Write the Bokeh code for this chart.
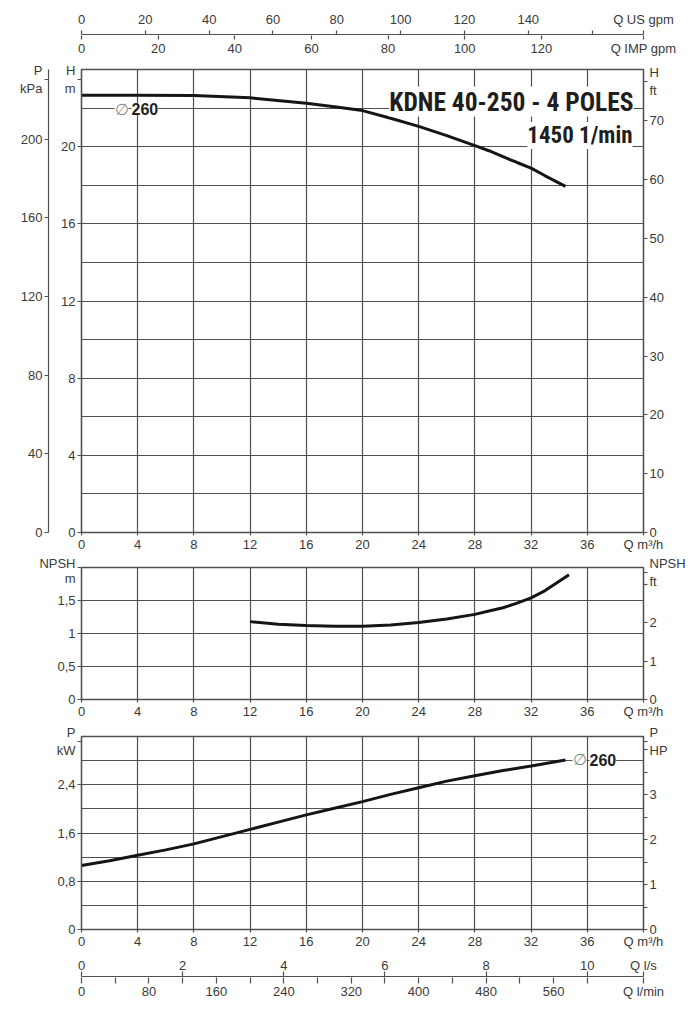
from bokeh.plotting import figure
from bokeh.models import Range1d, LinearAxis, FixedTicker, Label, ColumnDataSource
from bokeh.layouts import column
from bokeh.embed import file_html
from bokeh.resources import INLINE

# ---------------- data ----------------
Q_MAX = 40.0
H_MAX = 24.0
NPSH_MAX = 2.0
P_MAX = 3.2
KPA_PER_M = 9.80665
M_PER_FT = 0.3048
NPSH_M_PER_FT = 0.58          # NPSH right-hand scale as printed
KW_PER_HP = 0.7457
USGPM_PER_M3H = 4.40287
IMPGPM_PER_M3H = 3.66615
LS_PER_M3H = 1 / 3.6
LMIN_PER_M3H = 1000 / 60

q_head = [0, 4, 8, 12, 16, 18, 20, 22, 24, 26, 28, 29, 30, 31, 32, 33, 34.45]
head_m = [22.66, 22.66, 22.65, 22.53, 22.25, 22.07, 21.87, 21.47, 21.05, 20.57, 20.05,
          19.79, 19.48, 19.18, 18.89, 18.49, 17.94]

q_npsh = [12, 14, 16, 18, 20, 22, 24, 26, 28, 29, 30, 31, 32, 33, 34, 34.7]
npsh_m = [1.18, 1.14, 1.12, 1.11, 1.11, 1.13, 1.165, 1.22, 1.29, 1.34, 1.39, 1.46, 1.54,
          1.65, 1.79, 1.89]

q_power = [0, 2, 4, 6, 8, 10, 12, 14, 16, 18, 20, 22, 24, 26, 28, 30, 32, 34.45]
power_kw = [1.06, 1.14, 1.23, 1.32, 1.42, 1.54, 1.66, 1.78, 1.90, 2.01, 2.12, 2.24, 2.35,
            2.46, 2.55, 2.635, 2.71, 2.81]

q_ticks = [0, 4, 8, 12, 16, 20, 24, 28, 32, 36]
q_grid = [0, 4, 8, 12, 16, 20, 24, 28, 32, 36, 40]
us_ticks = [0, 20, 40, 60, 80, 100, 120, 140, 160]
imp_ticks = [0, 20, 40, 60, 80, 100, 120]
ls_ticks = [0, 2, 4, 6, 8, 10]
lmin_ticks = [0, 80, 160, 240, 320, 400, 480, 560]
lmin_minor = [40, 120, 200, 280, 360, 440, 520, 600]
h_ticks = [0, 4, 8, 12, 16, 20]
h_grid = [0, 2, 4, 6, 8, 10, 12, 14, 16, 18, 20, 22, 24]
kpa_ticks = [0, 40, 80, 120, 160, 200]
ft_ticks = [0, 10, 20, 30, 40, 50, 60, 70]
npsh_ticks = [0, 0.5, 1, 1.5]
npsh_tick_labels = ["0", "0,5", "1", "1,5"]
npsh_grid = [0, 0.5, 1, 1.5, 2]
npsh_ft_ticks = [0, 1, 2]
npsh_ft_minor = [3]
p_ticks = [0, 0.8, 1.6, 2.4]
p_tick_labels = ["0", "0,8", "1,6", "2,4"]
p_grid = [0, 0.4, 0.8, 1.2, 1.6, 2.0, 2.4, 2.8, 3.2]
hp_ticks = [0, 1, 2, 3]
hp_minor = [0.5, 1.5, 2.5, 3.5, 4]

TITLE = "KDNE 40-250 - 4 POLES"
SPEED = "1450 1/min"
DIAM = "260"
Q_M3H = "Q m³/h"

# ---------------- style ----------------
FONT = "Liberation Sans"
NARROW = ("Roboto Condensed, Noto Sans ExtraCondensed, Noto Sans Condensed, "
          "Liberation Sans Narrow, Open Sans Condensed, Liberation Sans")
TXT = "#3a3a3a"
GRID = "#505050"
CURVE = "#151515"
FL, FW = 81, 562          # frame left (page px) and frame width
EPS = 1e-3


def base_fig(xr, yr, fh, bt, bb, **kw):
    p = figure(frame_width=FW, frame_height=fh, x_range=xr, y_range=yr,
               output_backend="svg", toolbar_location=None,
               min_border_left=FL, min_border_right=50,
               min_border_top=bt, min_border_bottom=bb, **kw)
    p.background_fill_color = "white"
    p.border_fill_color = "white"
    p.outline_line_color = GRID
    p.outline_line_width = 1.4
    return p


def style_axis(ax, tick_out=4, standoff=2, lh=None):
    ax.axis_line_color = GRID
    ax.axis_line_width = 1.2
    ax.major_tick_line_color = GRID
    ax.major_tick_line_width = 1.2
    ax.minor_tick_line_color = GRID
    ax.minor_tick_line_width = 1.2
    ax.major_tick_out = tick_out
    ax.major_tick_in = 0
    ax.minor_tick_out = 0
    ax.minor_tick_in = 0
    ax.major_label_standoff = standoff
    ax.major_label_text_font = FONT
    ax.major_label_text_font_size = "13px"
    ax.major_label_text_color = TXT
    if lh is not None:
        ax.major_label_text_line_height = lh


def style_grid(p, xt, yt):
    p.xgrid.ticker = FixedTicker(ticks=xt)
    p.ygrid.ticker = FixedTicker(ticks=yt)
    for g in (p.xgrid[0], p.ygrid[0]):
        g.grid_line_color = GRID
        g.grid_line_width = 1.2


def ticks_with(ticks, labels, extra):
    """FixedTicker values + overrides; extra = {value: text} for unit labels."""
    vals = list(ticks) + list(extra.keys())
    ov = {t: l for t, l in zip(ticks, labels)}
    ov.update(extra)
    return vals, ov


def lab(p, ftop, fh, px, py, text, align="center", size="13.5px", bold=False,
        color=TXT, bg=None, font=FONT):
    x0, x1 = p.x_range.start, p.x_range.end
    y0, y1 = p.y_range.start, p.y_range.end
    x = x0 + (px - FL) / FW * (x1 - x0)
    y = y0 + (ftop + fh - py) / fh * (y1 - y0)
    L = Label(x=x, y=y, text=text, text_align=align, text_baseline="middle",
              text_font=font, text_font_size=size,
              text_font_style="bold" if bold else "normal",
              text_color=color, background_fill_color=bg)
    p.add_layout(L)
    return L


# ---------------- figure 1 : top flow axes ----------------
US_END = Q_MAX * USGPM_PER_M3H - EPS
IMP_END = Q_MAX * IMPGPM_PER_M3H - EPS
p1 = base_fig(Range1d(0, Q_MAX * USGPM_PER_M3H), Range1d(0, 1), 1, 34, 22,
              x_axis_location="above", y_axis_location=None)
p1.outline_line_color = None
p1.grid.visible = False
p1.extra_x_ranges = {"imp": Range1d(0, Q_MAX * IMPGPM_PER_M3H)}
ax_us = p1.xaxis[0]
v, ov = ticks_with(us_ticks, [str(t) for t in us_ticks[:-1]] + [""], {US_END: "Q US gpm"})
ax_us.ticker = FixedTicker(ticks=v)
ax_us.major_label_overrides = ov
style_axis(ax_us, 4, 4)
v, ov = ticks_with(imp_ticks, [str(t) for t in imp_ticks], {IMP_END: "Q IMP gpm"})
ax_imp = LinearAxis(x_range_name="imp", ticker=FixedTicker(ticks=v))
ax_imp.major_label_overrides = ov
style_axis(ax_imp, 4, 1)
ax_imp.axis_line_color = None
p1.add_layout(ax_imp, "below")


def q_axis(p):
    v, ov = ticks_with(q_ticks, [str(t) for t in q_ticks], {Q_MAX - EPS: Q_M3H})
    ax = p.xaxis[0]
    ax.ticker = FixedTicker(ticks=v)
    ax.major_label_overrides = ov
    style_axis(ax, 3, 1)


# ---------------- figure 2 : head ----------------
F2T, F2H = 68, 463
p2 = base_fig(Range1d(0, Q_MAX), Range1d(0, H_MAX), F2H, 11, 23)
p2.extra_y_ranges = {"kpa": Range1d(0, H_MAX * KPA_PER_M),
                     "ft": Range1d(0, H_MAX / M_PER_FT)}
H_UNIT = 23.5
ax_h = p2.yaxis[0]
v, ov = ticks_with(h_ticks, [str(t) for t in h_ticks], {H_UNIT: "H\nm"})
ax_h.ticker = FixedTicker(ticks=v)
ax_h.major_label_overrides = ov
style_axis(ax_h, 4, 2)
ax_h.axis_label = " "
ax_h.axis_label_standoff = 0
ax_h.axis_label_text_font_size = "7px"
q_axis(p2)
v, ov = ticks_with(kpa_ticks, [str(t) for t in kpa_ticks], {H_UNIT * KPA_PER_M: "P\nkPa"})
ax_kpa = LinearAxis(y_range_name="kpa", ticker=FixedTicker(ticks=v))
ax_kpa.major_label_overrides = ov
style_axis(ax_kpa, 4, 2)
p2.add_layout(ax_kpa, "left")
v, ov = ticks_with(ft_ticks, [str(t) for t in ft_ticks], {23.4 / M_PER_FT: "H\nft"})
ax_ft = LinearAxis(y_range_name="ft", ticker=FixedTicker(ticks=v))
ax_ft.major_label_overrides = ov
style_axis(ax_ft, 4, 2)
p2.add_layout(ax_ft, "right")
style_grid(p2, q_grid, h_grid)
p2.line(x="q", y="h", source=ColumnDataSource(dict(q=q_head, h=head_m)),
        line_width=3, line_color=CURVE)
lab(p2, F2T, F2H, 114, 107.5, "∅", align="left", size="16px", color="#8a8a8a", bg="white")
lab(p2, F2T, F2H, 131, 107.5, DIAM, align="left", size="16px", bold=True, color="#222222", bg="white")
lab(p2, F2T, F2H, 633, 100, TITLE, align="right", size="25.5px", bold=True,
    color="#1e1e1e", bg="white", font=NARROW)
lab(p2, F2T, F2H, 632, 134, SPEED, align="right", size="23px", bold=True,
    color="#1e1e1e", bg="white", font=NARROW)

# ---------------- figure 3 : NPSH ----------------
F3T, F3H = 566, 132
p3 = base_fig(Range1d(0, Q_MAX), Range1d(0, NPSH_MAX), F3H, 12, 23)
NPSH_FT_MAX = NPSH_MAX / NPSH_M_PER_FT
p3.extra_y_ranges = {"ft": Range1d(0, NPSH_FT_MAX)}
ax_n = p3.yaxis[0]
v, ov = ticks_with(npsh_ticks, npsh_tick_labels, {NPSH_MAX - EPS: "NPSH\nm"})
ax_n.ticker = FixedTicker(ticks=v)
ax_n.major_label_overrides = ov
style_axis(ax_n, 4, 2, 1.0)
q_axis(p3)
v, ov = ticks_with(npsh_ft_ticks, [str(t) for t in npsh_ft_ticks], {3.33: "NPSH\nft"})
ax_nft = LinearAxis(y_range_name="ft", ticker=FixedTicker(ticks=v, minor_ticks=npsh_ft_minor))
ax_nft.major_label_overrides = ov
style_axis(ax_nft, 4, 2)
ax_nft.minor_tick_out = 4
p3.add_layout(ax_nft, "right")
style_grid(p3, q_grid, npsh_grid)
p3.line(x="q", y="n", source=ColumnDataSource(dict(q=q_npsh, n=npsh_m)),
        line_width=3, line_color=CURVE)

# ---------------- figure 4 : power ----------------
F4T, F4H = 735, 193
p4 = base_fig(Range1d(0, Q_MAX), Range1d(0, P_MAX), F4H, 14, 23)
p4.extra_y_ranges = {"hp": Range1d(0, P_MAX / KW_PER_HP)}
ax_p = p4.yaxis[0]
v, ov = ticks_with(p_ticks, p_tick_labels, {3.12: "P\nkW"})
ax_p.ticker = FixedTicker(ticks=v)
ax_p.major_label_overrides = ov
style_axis(ax_p, 4, 2)
q_axis(p4)
v, ov = ticks_with(hp_ticks, [str(t) for t in hp_ticks], {4.18: "P\nHP"})
ax_hp = LinearAxis(y_range_name="hp", ticker=FixedTicker(ticks=v, minor_ticks=hp_minor))
ax_hp.major_label_overrides = ov
style_axis(ax_hp, 4, 2)
ax_hp.minor_tick_out = 4
p4.add_layout(ax_hp, "right")
style_grid(p4, q_grid, p_grid)
p4.line(x="q", y="p", source=ColumnDataSource(dict(q=q_power, p=power_kw)),
        line_width=3, line_color=CURVE)
lab(p4, F4T, F4H, 572, 758.3, "∅", align="left", size="16px", color="#8a8a8a", bg="white")
lab(p4, F4T, F4H, 589, 758.3, DIAM, align="left", size="16px", bold=True, color="#222222", bg="white")

# ---------------- figure 5 : bottom flow axes ----------------
LS_END = Q_MAX * LS_PER_M3H - EPS
LMIN_END = Q_MAX * LMIN_PER_M3H - EPS
p5 = base_fig(Range1d(0, Q_MAX * LS_PER_M3H), Range1d(0, 1), 1, 24, 26,
              x_axis_location="above", y_axis_location=None)
p5.outline_line_color = None
p5.grid.visible = False
p5.extra_x_ranges = {"lmin": Range1d(0, Q_MAX * LMIN_PER_M3H)}
ax_ls = p5.xaxis[0]
v, ov = ticks_with(ls_ticks, [str(t) for t in ls_ticks], {LS_END: "Q l/s"})
ax_ls.ticker = FixedTicker(ticks=v)
ax_ls.major_label_overrides = ov
style_axis(ax_ls, 5, -1)
v, ov = ticks_with(lmin_ticks, [str(t) for t in lmin_ticks], {LMIN_END: "Q l/min"})
ax_lm = LinearAxis(x_range_name="lmin", ticker=FixedTicker(ticks=v, minor_ticks=lmin_minor))
ax_lm.major_label_overrides = ov
style_axis(ax_lm, 6, 0)
ax_lm.minor_tick_out = 6
ax_lm.axis_line_color = None
p5.add_layout(ax_lm, "below")

layout = column(p1, p2, p3, p4, p5, spacing=0)
open("out.html", "w").write(file_html(layout, INLINE))
